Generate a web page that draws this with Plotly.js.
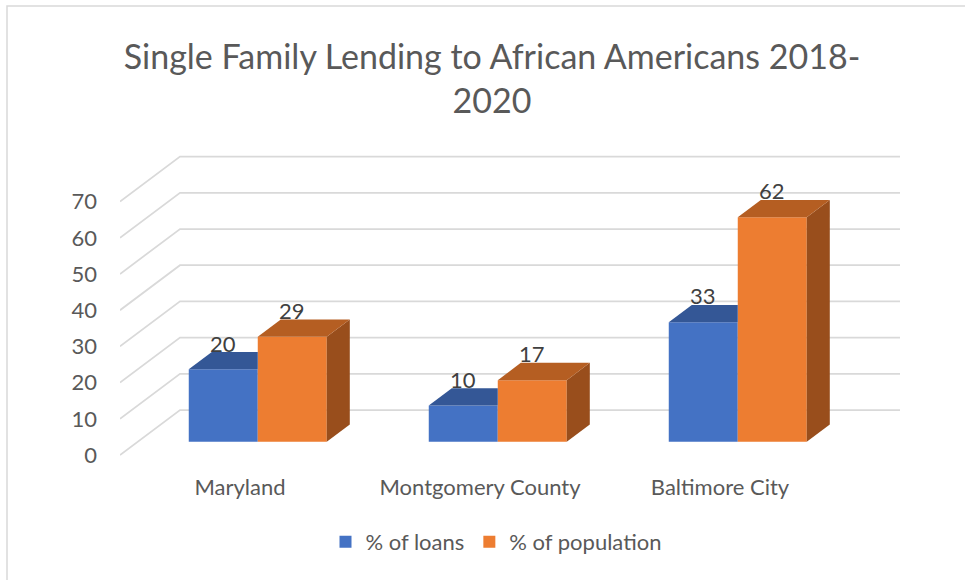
<!DOCTYPE html>
<html>
<head>
<meta charset="utf-8">
<script src="https://cdn.plot.ly/plotly-3.0.1.min.js"></script>
<style>html,body{margin:0;padding:0;background:#fff;}#chart{width:965px;height:580px;}</style>
</head>
<body>
<div id="chart"></div>
<script>
// ---- data ----
const categories = ['Maryland', 'Montgomery County', 'Baltimore City'];
const loans = [20, 10, 33];
const population = [29, 17, 62];
const seriesNames = ['% of loans', '% of population'];
const yTicks = [0, 10, 20, 30, 40, 50, 60, 70];
const yTickText = ['0', '10', '20', '30', '40', '50', '60', '70'];

// ---- styles / geometry of the pseudo-3D projection ----
const FONT = 'Lato, "Open Sans", sans-serif';
const TEXT = '#595959';
const GRID = '#d9d9d9';
const frontCol = ['#4472C4', '#ED7D31'];
const topCol = ['#345796', '#B55E22'];
const sideCol = ['#2B4A82', '#994E1C'];
const BAR_W = 0.2875;     // bar width in category units
const DX = 0.25;          // full depth shift, x (category units)
const DY = 12.43;         // full depth shift, y (value units)
const D1 = 0.296, D2 = 0.68; // bar front/back depth
const dd = D2 - D1;

const series = [loans, population];
const traces = [];
const annotations = [];
const shapes = [];

// back wall + side wall gridlines
yTicks.forEach(v => {
  const x0 = -0.5, x1 = -0.5 + DX, x2 = categories.length - 0.5 + DX;
  shapes.push({
    type: 'path', xref: 'x', yref: 'y', layer: 'below',
    path: `M ${x0},${v} L ${x1},${v + DY} L ${x2},${v + DY}`,
    line: {color: GRID, width: 1.75}
  });
});

// border of chart area
shapes.push({type: 'rect', xref: 'paper', yref: 'paper', layer: 'below',
  x0: (7 - 120) / 785, x1: (990 - 120) / 785, y0: (470 - 600) / 340, y1: (470 - 6) / 340,
  line: {color: GRID, width: 1.5}, fillcolor: 'rgba(0,0,0,0)'});

series.forEach((vals, s) => {
  const xs = [], bases = [];
  vals.forEach((v, i) => {
    const fl = i + (s === 0 ? -BAR_W : 0) + D1 * DX;
    xs.push(fl + BAR_W / 2);
    bases.push(D1 * DY);
  });
  traces.push({
    type: 'bar', name: seriesNames[s], x: xs, y: vals, base: bases, width: BAR_W,
    marker: {color: frontCol[s], line: {width: 0}}, hoverinfo: 'skip'
  });
});

series.forEach((vals, s) => {
  vals.forEach((v, i) => {
    const fl = i + (s === 0 ? -BAR_W : 0) + D1 * DX;
    const fr = fl + BAR_W;
    const b = D1 * DY;
    const t = b + v;
    const hiddenRight = (s === 0 && population[i] >= v);
    let tx, ty;
    if (hiddenRight) {
      tx = [fl, fr, fr, fl + dd * DX, fl];
      ty = [t, t, t + dd * DY, t + dd * DY, t];
    } else {
      tx = [fl, fr, fr + dd * DX, fl + dd * DX, fl];
      ty = [t, t, t + dd * DY, t + dd * DY, t];
      traces.push({type: 'scatter', mode: 'lines', x: [fr, fr + dd * DX, fr + dd * DX, fr, fr],
        y: [b, b + dd * DY, t + dd * DY, t, b], fill: 'toself', fillcolor: sideCol[s],
        line: {width: 0}, showlegend: false, hoverinfo: 'skip'});
    }
    traces.push({type: 'scatter', mode: 'lines', x: tx, y: ty, fill: 'toself', fillcolor: topCol[s],
      line: {width: 0}, showlegend: false, hoverinfo: 'skip'});
    annotations.push({x: fl + BAR_W / 2, y: t + dd * DY, xref: 'x', yref: 'y', text: String(v),
      showarrow: false, yanchor: 'middle', yshift: 9, font: {family: FONT, size: 22, color: '#404040'}});
  });
});

const layout = {
  width: 965, height: 580,
  margin: {l: 120, r: 60, t: 130, b: 110},
  paper_bgcolor: '#fff', plot_bgcolor: 'rgba(0,0,0,0)',
  barmode: 'overlay',
  title: {text: 'Single Family Lending to African Americans 2018-<br>2020',
    font: {family: FONT, size: 34, color: TEXT},
    xref: 'container', x: 492 / 965, xanchor: 'center',
    yref: 'container', y: 1 - 69 / 580, yanchor: 'top'},
  xaxis: {range: [-0.5, -0.5 + 785 / 240], tickvals: [0, 1, 2], ticktext: categories,
    showgrid: false, zeroline: false, showline: false, ticks: '', ticklabelstandoff: 2,
    tickfont: {family: FONT, size: 22, color: TEXT}, fixedrange: true},
  yaxis: {range: [(455 - 470) / 3.62, (455 - 130) / 3.62], tickvals: yTicks, ticktext: yTickText,
    showgrid: false, zeroline: false, showline: false, ticks: '', ticklabelstandoff: 22,
    tickfont: {family: FONT, size: 22, color: TEXT}, fixedrange: true},
  showlegend: true,
  legend: {orientation: 'h', xref: 'container', x: 496 / 965, xanchor: 'center',
    yref: 'container', y: 1 - 542 / 580, yanchor: 'middle',
    font: {family: FONT, size: 22, color: TEXT}, itemclick: false, itemdoubleclick: false},
  shapes: shapes,
  annotations: annotations
};

Plotly.newPlot('chart', traces, layout, {displayModeBar: false, staticPlot: true});
</script>
</body>
</html>
